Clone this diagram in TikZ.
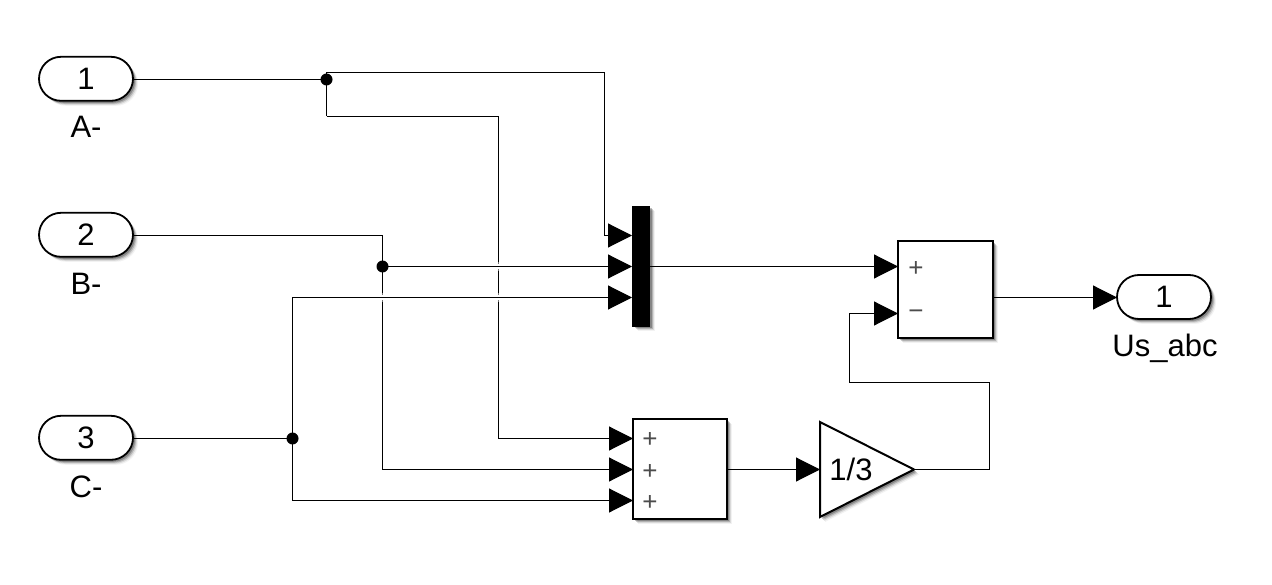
\documentclass[tikz,border=0pt]{standalone}
\usepackage{fontspec}
\setmainfont{Liberation Sans}
\usetikzlibrary{arrows.meta,shapes.misc,shapes.geometric,shadows,calc}
\tikzset{
  softshadow/.style={
    drop shadow={shadow xshift=5pt,shadow yshift=-5pt,fill=black,opacity=.05},
    drop shadow={shadow xshift=4pt,shadow yshift=-4pt,fill=black,opacity=.10},
    drop shadow={shadow xshift=3pt,shadow yshift=-3pt,fill=black,opacity=.18},
    drop shadow={shadow xshift=2pt,shadow yshift=-2pt,fill=black,opacity=.25}},
  wire/.style={line width=1.1pt,draw=black,line cap=butt},
  arrowed/.style={wire,-{Triangle[length=24pt,width=24pt]}},
  halo/.style={preaction={draw=white,line width=9pt,draw opacity=.45,arrows=-},
               preaction={draw=white,line width=5pt,arrows=-}},
  pill/.style={rounded rectangle,draw=black,line width=1.8pt,fill=white,softshadow,
    minimum width=94pt,minimum height=44pt,inner sep=0pt,outer sep=0pt,font=\fontsize{31}{32}\selectfont},
  block/.style={rectangle,draw=black,line width=2pt,fill=white,softshadow,inner sep=0pt,outer sep=0pt},
  muxbar/.style={rectangle,draw=black,fill=black,softshadow,inner sep=0pt,outer sep=0pt,minimum width=17pt,minimum height=120pt},
  gainblock/.style={isosceles triangle,isosceles triangle stretches,shape border rotate=0,draw=black,line width=2pt,fill=white,softshadow,
    minimum width=95pt,minimum height=94pt,inner sep=0pt,outer sep=0pt},
  junction/.style={circle,fill=black,inner sep=0pt,outer sep=0pt,minimum size=12pt},
  caption/.style={anchor=base,inner sep=0pt,font=\fontsize{31}{32}\selectfont},
  sign/.style={inner sep=0pt,text=black!70,font=\fontsize{26}{28}\selectfont}
}
\begin{document}
\begin{tikzpicture}[x=1pt,y=-1pt]
\useasboundingbox (0,0) rectangle (1272,585);
% coordinates for ports and corners
\coordinate (m1) at (632,235.5);
\coordinate (m2) at (632,266.5);
\coordinate (m3) at (632,297.5);
\coordinate (s1) at (633,438.5);
\coordinate (s2) at (633,469.5);
\coordinate (s3) at (633,500.5);
\coordinate (d1) at (898,266.5);
\coordinate (d2) at (898,313.5);
\coordinate (ja) at (326.5,79.5);
\coordinate (jb) at (382.5,266.5);
\coordinate (jc) at (292.5,438.5);
\coordinate (t1) at (326.5,72.5);
\coordinate (t2) at (604.5,235.5);
\coordinate (t2b) at (608,235.5);
\coordinate (u1) at (326.5,116.5);
\coordinate (u2) at (498.5,438.5);
\coordinate (v1) at (382.5,235.5);
\coordinate (v2) at (382.5,469.5);
\coordinate (c1) at (292.5,297.5);
\coordinate (c2) at (292.5,500.5);
\coordinate (f1) at (989.5,382.5);
\coordinate (f2) at (849.5,313.5);
\coordinate (q) at (1117,297.5);
% wires that are crossed
\draw[wire] (u1) -| (u2);
\draw[wire] (v1) -- (v2);
\draw[arrowed,halo] (jb) -- (m2);
\draw[arrowed,halo] (c1) -- (m3);
% blocks
\node[pill] (i1) at (86,78.8) {1};
\node[pill] (i2) at (86,234.8) {2};
\node[pill] (i3) at (86,437.8) {3};
\node[pill] (o1) at (1164,297) {1};
\node[muxbar] (mux) at (641,266) {};
\node[block,minimum width=94pt,minimum height=100pt] (sumA) at (680,469) {};
\node[block,minimum width=94.5pt,minimum height=97pt] (sumB) at (945.7,289.2) {};
\node[gainblock,anchor=lower side] (gain) at (820,469.5) {};
% remaining wires
\draw[wire] (i1.east |- ja) -- (ja);
\draw[wire] (ja) -- (t1) -| (t2) -- (t2b);
\draw[wire] (ja) -- (u1);
\draw[wire] (i2.east |- v1) -- (v1);
\draw[wire] (i3.east |- jc) -- (jc);
\draw[wire] (c1) -- (c2);
\draw[arrowed] (t2b) -- (m1);
\draw[arrowed] (u2) -- (s1);
\draw[arrowed] (v2) -- (s2);
\draw[arrowed] (c2) -- (s3);
\draw[arrowed] (mux.east |- m2) -- (d1);
\draw[arrowed] (sumA.east |- gain.lower side) -- (gain.lower side);
\draw[arrowed] (sumB.east |- q) -- (q);
\draw[arrowed] (gain.apex) -| (f1) -| (f2) -- (d2);
% junctions
\node[junction] (dotA) at (ja) {};
\node[junction] (dotB) at (jb) {};
\node[junction] (dotC) at (jc) {};
% texts
\node[caption] (la) at (86,137.7) {A-};
\node[caption] (lb) at (86,294.2) {B-};
\node[caption] (lc) at (86,497.2) {C-};
\node[caption] (lo) at (1165,356) {Us\_abc};
\node[caption] (lg) at (851,480.7) {1/3};
\node[sign] (pa) at (650,440) {+};
\node[sign] (pb) at (650,471.5) {+};
\node[sign] (pc) at (650,502.5) {+};
\node[sign] (pd) at (916,269) {+};
\node[sign] (pe) at (916,315) {−};
\end{tikzpicture}
\end{document}
